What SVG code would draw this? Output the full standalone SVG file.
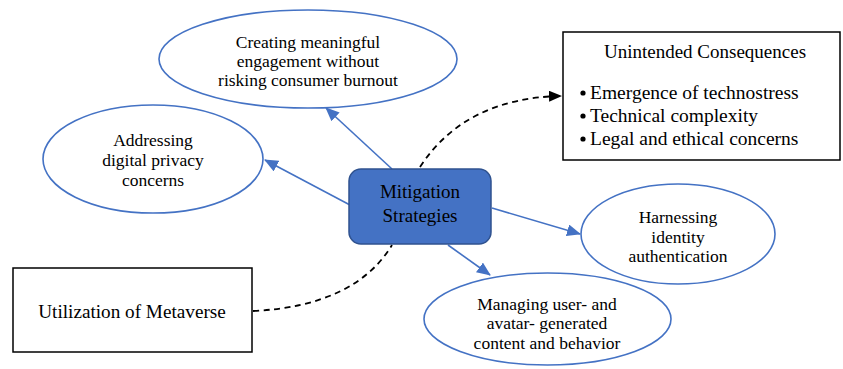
<svg xmlns="http://www.w3.org/2000/svg" width="843" height="369" viewBox="0 0 843 369">
<defs>
<style>
.ell{fill:#fff;stroke:#4472C4;stroke-width:1.6}
.box{fill:#fff;stroke:#000;stroke-width:1.5}
.t{font-family:"Liberation Serif","Times New Roman",serif;fill:#000;text-anchor:middle}
.e{font-size:17.5px}
.li{font-family:"Liberation Serif","Times New Roman",serif;fill:#000;font-size:19.5px}
.blue{stroke:#4472C4;stroke-width:1.6;fill:none}
.dash{stroke:#000;stroke-width:1.8;fill:none;stroke-dasharray:6 4.5}
</style>
<marker id="ab" markerUnits="userSpaceOnUse" markerWidth="14" markerHeight="12" viewBox="0 0 14 12" refX="13" refY="6" orient="auto">
<path d="M0,0 L14,6 L0,12 Z" fill="#4472C4"/>
</marker>
<marker id="ak" markerUnits="userSpaceOnUse" markerWidth="13" markerHeight="11" viewBox="0 0 13 11" refX="12" refY="5.5" orient="auto">
<path d="M0,0 L13,5.5 L0,11 Z" fill="#000"/>
</marker>
</defs>
<rect width="843" height="369" fill="#fff"/>
<g id="connectors">
<line class="blue" x1="392" y1="169" x2="326" y2="108" marker-end="url(#ab)"/>
<line class="blue" x1="350" y1="205" x2="265" y2="160" marker-end="url(#ab)"/>
<line class="blue" x1="492" y1="208" x2="580" y2="234" marker-end="url(#ab)"/>
<line class="blue" x1="448" y1="245" x2="490" y2="275" marker-end="url(#ab)"/>
<path class="dash" d="M420,167 Q465,98 561,96" marker-end="url(#ak)"/>
<path class="dash" d="M253,311 Q355,306 392,245"/>
</g>
<g id="node-engagement">
<ellipse class="ell" cx="308" cy="59" rx="149" ry="49"/>
<text class="t e" x="308" y="48">Creating meaningful</text>
<text class="t e" x="308" y="67">engagement without</text>
<text class="t e" x="308" y="86">risking consumer burnout</text>
</g>
<g id="node-privacy">
<ellipse class="ell" cx="153" cy="159" rx="110" ry="54"/>
<text class="t e" x="153" y="146">Addressing</text>
<text class="t e" x="153" y="166">digital privacy</text>
<text class="t e" x="153" y="186">concerns</text>
</g>
<g id="node-mitigation">
<rect x="349" y="169" width="142" height="75" rx="12" fill="#4472C4" stroke="#2F528F" stroke-width="1.5"/>
<text class="t" x="420" y="198" font-size="19">Mitigation</text>
<text class="t" x="420" y="222" font-size="19">Strategies</text>
</g>
<g id="node-consequences">
<rect class="box" x="563" y="32" width="277" height="128"/>
<text class="t" x="705" y="58" font-size="19">Unintended Consequences</text>
<circle cx="583" cy="93" r="2.6" fill="#000"/>
<text class="li" x="590" y="99">Emergence of technostress</text>
<circle cx="583" cy="116" r="2.6" fill="#000"/>
<text class="li" x="590" y="122">Technical complexity</text>
<circle cx="583" cy="139" r="2.6" fill="#000"/>
<text class="li" x="590" y="145">Legal and ethical concerns</text>
</g>
<g id="node-harnessing">
<ellipse class="ell" cx="678" cy="234" rx="97" ry="50"/>
<text class="t e" x="678" y="223">Harnessing</text>
<text class="t e" x="678" y="243">identity</text>
<text class="t e" x="678" y="262">authentication</text>
</g>
<g id="node-managing">
<ellipse class="ell" cx="547.5" cy="319" rx="123.5" ry="46"/>
<text class="t e" x="547" y="310">Managing user- and</text>
<text class="t e" x="547" y="329">avatar- generated</text>
<text class="t e" x="547" y="349">content and behavior</text>
</g>
<g id="node-metaverse">
<rect class="box" x="13" y="268" width="239" height="84"/>
<text class="t" x="132" y="318" font-size="19.2">Utilization of Metaverse</text>
</g>
</svg>
